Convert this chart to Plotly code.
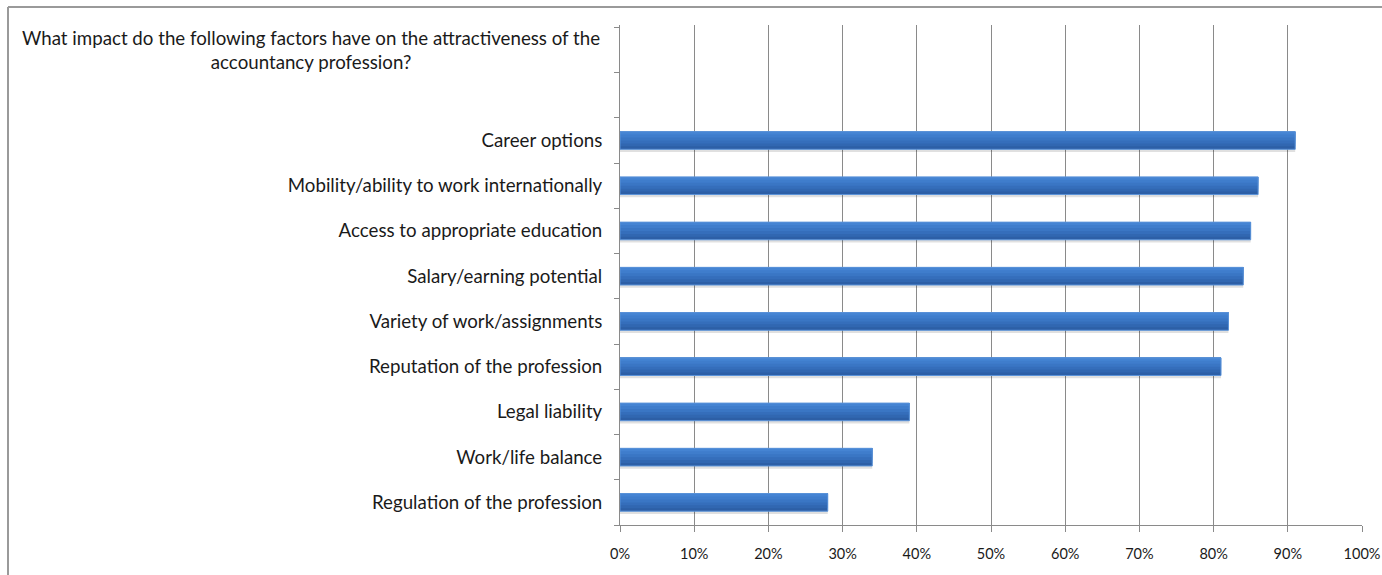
import plotly.graph_objects as go

# Survey question shown above the factor list
question = "What impact do the following factors have on the attractiveness of the<br>accountancy profession?"

# Factors, top to bottom, and share of respondents (%)
factors = [
    "Career options",
    "Mobility/ability to work internationally",
    "Access to appropriate education",
    "Salary/earning potential",
    "Variety of work/assignments",
    "Reputation of the profession",
    "Legal liability",
    "Work/life balance",
    "Regulation of the profession",
]
shares = [91, 86, 85, 84, 82, 81, 39, 34, 28]

x_ticks = [0, 10, 20, 30, 40, 50, 60, 70, 80, 90, 100]
x_tick_labels = [f"{v}%" for v in x_ticks]

# Two leading slots: one for the question, one left blank
slots = ["_question", "_blank"] + factors
slot_text = ["", ""] + factors

FONT = "Lato"
LABEL_SIZE = 18.7
GRID = "#8a8a8a"
BAR_W = 0.39

fig = go.Figure()

# soft drop shadow under each bar
fig.add_trace(go.Bar(
    x=shares, y=factors, orientation="h",
    width=BAR_W, offset=-BAR_W / 2 + 0.06,
    marker=dict(color="rgba(0,0,0,0.12)", line=dict(width=0)),
    hoverinfo="skip", showlegend=False,
))

# bar shading: darkest full-height bar first, then lighter bars that
# cover progressively less of the bar, always anchored at its top edge
band_colors = ["#2d5fa6", "#3167b1", "#356ebb", "#3a76c4", "#3f7dcc", "#4584d3"]
n = len(band_colors)
for k, c in enumerate(band_colors):
    frac = (n - k) / n
    fig.add_trace(go.Bar(
        x=shares, y=factors, orientation="h",
        width=BAR_W * frac, offset=-BAR_W / 2,
        marker=dict(color=c, line=dict(width=0)),
        hovertemplate="%{y}: %{x}%<extra></extra>", showlegend=False,
    ))

# thin light outline around each bar
fig.add_trace(go.Bar(
    x=shares, y=factors, orientation="h",
    width=BAR_W, offset=-BAR_W / 2,
    marker=dict(color="rgba(0,0,0,0)", line=dict(color="#5b93d9", width=1)),
    hoverinfo="skip", showlegend=False,
))

fig.add_annotation(
    text=question, xref="paper", x=0, xanchor="right", xshift=-18,
    yref="y", y="_question", yanchor="middle",
    align="center", showarrow=False,
    font=dict(family=FONT, size=LABEL_SIZE, color="#1a1a1a"),
)

# chart-area frame (left and top edges)
fig.add_shape(type="line", xref="paper", yref="paper",
              x0=-0.8248, x1=-0.8248, y0=1.036, y1=-0.2,
              line=dict(color="#9a9a9a", width=2))
fig.add_shape(type="line", xref="paper", yref="paper",
              x0=-0.8248, x1=1.05, y0=1.036, y1=1.036,
              line=dict(color="#9a9a9a", width=2))

fig.update_layout(
    width=1382, height=575,
    margin=dict(l=620, r=20, t=25, b=50, autoexpand=False),
    barmode="overlay",
    plot_bgcolor="white", paper_bgcolor="white",
    font=dict(family=FONT, color="#1a1a1a"),
    xaxis=dict(
        range=[0, 100], tickmode="array", tickvals=x_ticks, ticktext=x_tick_labels,
        showgrid=True, gridcolor=GRID, gridwidth=1,
        showline=True, linecolor=GRID, linewidth=1,
        ticks="outside", ticklen=6, tickcolor=GRID,
        tickfont=dict(family=FONT, size=14.5, color="#1a1a1a"),
        ticklabelstandoff=10, zeroline=False, fixedrange=True,
        automargin=False,
    ),
    yaxis=dict(
        type="category", categoryorder="array", categoryarray=slots,
        autorange="reversed",
        tickmode="array", tickvals=slots, ticktext=slot_text,
        tickson="boundaries", ticks="outside", ticklen=5, tickcolor=GRID,
        showline=True, linecolor=GRID, linewidth=1, showgrid=False,
        tickfont=dict(family=FONT, size=LABEL_SIZE, color="#1a1a1a"),
        ticklabelstandoff=13, fixedrange=True, automargin=False,
    ),
)

fig.write_html("out.html")
